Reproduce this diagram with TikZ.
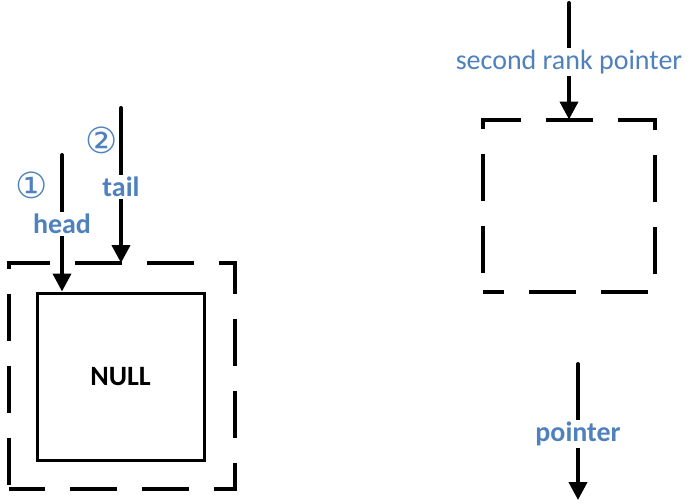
\documentclass[tikz,border=0pt]{standalone}
\usepackage{fontspec}
\setmainfont{Carlito}
\newfontfamily\circfont{DejaVu Sans}
\usetikzlibrary{arrows.meta}
\definecolor{labelblue}{RGB}{79,129,189}

\begin{document}
\begin{tikzpicture}[x=1pt, y=-1pt,
  ptr/.style={-{Triangle[length=18pt, width=18pt]}, line width=4pt, line cap=round, black},
  lbl/.style={fill=white, text=labelblue, inner sep=2pt, font=\fontsize{28}{32}\selectfont},
  boldlbl/.style={lbl, font=\bfseries\fontsize{28}{32}\selectfont},
  circlbl/.style={text=labelblue, inner sep=0pt, font=\circfont\fontsize{36}{40}\selectfont},
  dashbox/.style={draw, line width=4pt, dash pattern=on 47pt off 25pt, inner sep=0pt, outer sep=0pt}]
\useasboundingbox (0, 0) rectangle (698, 503);

% boxes
\node [dashbox, minimum size=226pt, dash phase=11pt] (outer) at (122, 376) {};
\node [draw, line width=3pt, minimum size=167pt, font=\bfseries\fontsize{28}{32}\selectfont] (null) at (120.5, 376.5) {NULL};
\node [dashbox, minimum size=172pt, dash phase=26pt] (second) at (569, 205.5) {};

% head and tail
\coordinate (headtop) at (62, 155);
\coordinate (tailtop) at (121, 108);
\draw [ptr] (headtop) -- (headtop |- null.north);
\draw [ptr] (tailtop) -- (tailtop |- outer.north);
\node [boldlbl] (head) at (62, 224) {head};
\node [boldlbl] (tail) at (121, 187) {tail};
\node [circlbl] (one) at (32, 185) {①};
\node [circlbl] (two) at (102, 140) {②};

% second rank pointer
\coordinate (secondtop) at (569, 3);
\draw [ptr] (secondtop) -- (second.north);
\node [lbl] (secondlbl) at (569, 62) {second rank pointer};

% pointer
\coordinate (ptrtop) at (578, 364);
\coordinate (ptrend) at (578, 500);
\draw [ptr] (ptrtop) -- (ptrend);
\node [boldlbl] (pointer) at (578, 434) {pointer};
\end{tikzpicture}
\end{document}
